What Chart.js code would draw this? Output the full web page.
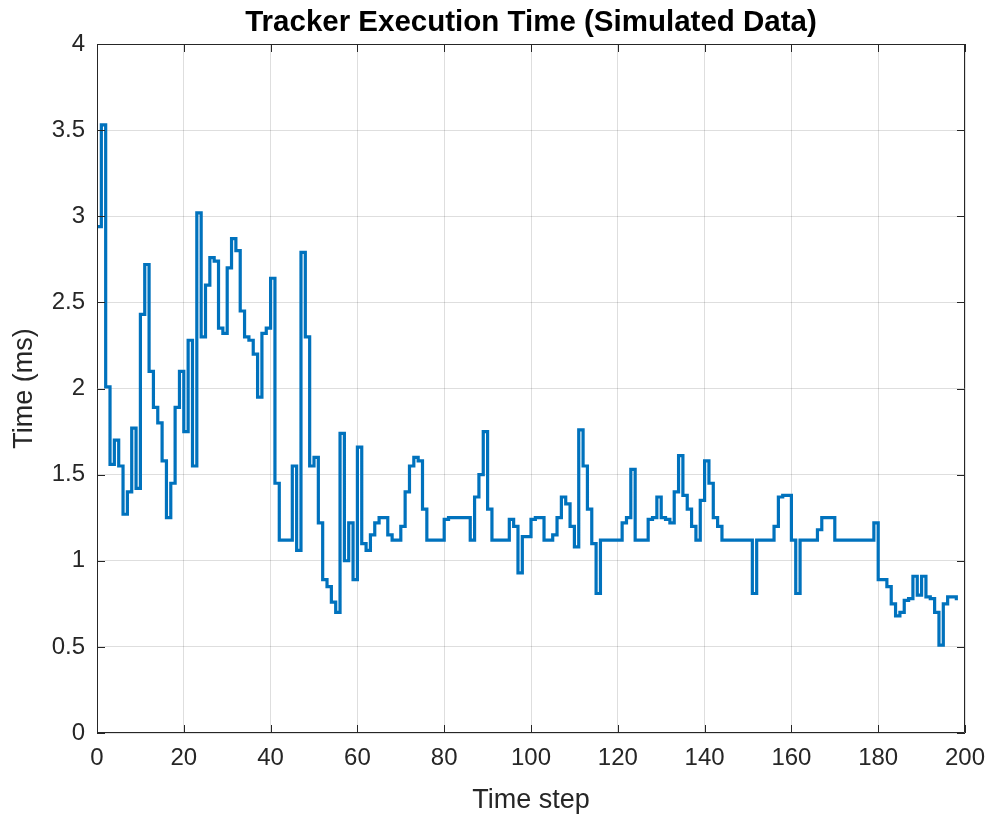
<!DOCTYPE html>
<html>
<head>
<meta charset="utf-8">
<script src="https://cdn.jsdelivr.net/npm/chart.js@4"></script>
<style>
html,body{margin:0;padding:0;background:#fff;}
#wrap{width:990px;height:817px;}
</style>
</head>
<body>
<div id="wrap"><canvas id="c" width="990" height="817"></canvas></div>
<script>
const timeSteps = [];
for (let i = 0; i <= 198; i++) timeSteps.push(i);

const execTimeMs = [
  2.94, 3.53, 2.01, 1.56, 1.70, 1.55, 1.27, 1.40, 1.77, 1.42,
  2.43, 2.72, 2.10, 1.89, 1.80, 1.58, 1.25, 1.45, 1.89, 2.10,
  1.75, 2.28, 1.55, 3.02, 2.30, 2.60, 2.76, 2.74, 2.35, 2.32,
  2.70, 2.87, 2.80, 2.45, 2.30, 2.28, 2.20, 1.95, 2.32, 2.35,
  2.64, 1.45, 1.12, 1.12, 1.12, 1.55, 1.06, 2.79, 2.30, 1.55,
  1.60, 1.22, 0.89, 0.85, 0.76, 0.70, 1.74, 1.00, 1.22, 0.89,
  1.66, 1.10, 1.06, 1.15, 1.22, 1.25, 1.25, 1.15, 1.12, 1.12,
  1.20, 1.40, 1.55, 1.60, 1.58, 1.30, 1.12, 1.12, 1.12, 1.12,
  1.24, 1.25, 1.25, 1.25, 1.25, 1.25, 1.12, 1.37, 1.50, 1.75,
  1.30, 1.12, 1.12, 1.12, 1.12, 1.24, 1.20, 0.93, 1.14, 1.14,
  1.24, 1.25, 1.25, 1.12, 1.12, 1.15, 1.25, 1.37, 1.33, 1.20,
  1.08, 1.76, 1.55, 1.30, 1.10, 0.81, 1.12, 1.12, 1.12, 1.12,
  1.12, 1.22, 1.25, 1.53, 1.12, 1.12, 1.12, 1.24, 1.25, 1.37,
  1.25, 1.24, 1.22, 1.40, 1.61, 1.38, 1.30, 1.20, 1.12, 1.35,
  1.58, 1.45, 1.25, 1.20, 1.12, 1.12, 1.12, 1.12, 1.12, 1.12,
  1.12, 0.81, 1.12, 1.12, 1.12, 1.12, 1.20, 1.37, 1.38, 1.38,
  1.12, 0.81, 1.12, 1.12, 1.12, 1.12, 1.18, 1.25, 1.25, 1.25,
  1.12, 1.12, 1.12, 1.12, 1.12, 1.12, 1.12, 1.12, 1.12, 1.22,
  0.89, 0.89, 0.85, 0.75, 0.68, 0.70, 0.77, 0.78, 0.91, 0.80,
  0.91, 0.79, 0.78, 0.70, 0.51, 0.75, 0.79, 0.79, 0.77
];

const titleText = 'Tracker Execution Time (Simulated Data)';
const xLabel = 'Time step';
const yLabel = 'Time (ms)';
const xRange = [0, 200];
const xStep = 20;
const yRange = [0, 4];
const yStep = 0.5;

const points = timeSteps.map((t, i) => ({x: t, y: execTimeMs[i]}));

const FONT = '"Liberation Sans", Arial, Helvetica, sans-serif';
const AX = '#262626';

const boxPlugin = {
  id: 'matlabBox',
  afterDatasetsDraw(chart) {
    const {ctx, chartArea: a, scales} = chart;
    ctx.save();
    ctx.strokeStyle = AX;
    ctx.lineWidth = 1;
    ctx.beginPath();
    ctx.rect(a.left + 0.5, a.top + 0.5, a.right - a.left - 1, a.bottom - a.top - 1);
    ctx.stroke();
    const tl = 8;
    ctx.beginPath();
    scales.x.ticks.forEach(tk => {
      const px = Math.round(scales.x.getPixelForValue(tk.value)) + 0.5;
      ctx.moveTo(px, a.bottom); ctx.lineTo(px, a.bottom - tl);
      ctx.moveTo(px, a.top); ctx.lineTo(px, a.top + tl);
    });
    scales.y.ticks.forEach(tk => {
      const py = Math.round(scales.y.getPixelForValue(tk.value)) + 0.5;
      ctx.moveTo(a.left, py); ctx.lineTo(a.left + tl, py);
      ctx.moveTo(a.right, py); ctx.lineTo(a.right - tl, py);
    });
    ctx.stroke();
    // title centred over the plot area
    ctx.fillStyle = '#000';
    ctx.font = 'bold 29.5px ' + FONT;
    ctx.textAlign = 'center';
    ctx.textBaseline = 'middle';
    ctx.fillText(titleText, (a.left + a.right) / 2, 23);
    ctx.restore();
  }
};

new Chart(document.getElementById('c'), {
  type: 'line',
  data: {
    datasets: [{
      data: points,
      borderColor: '#0072BD',
      borderWidth: 3.2,
      pointRadius: 0,
      stepped: true,
      fill: false
    }]
  },
  options: {
    responsive: false,
    animation: false,
    layout: {padding: {left: 0, right: 25, top: 44, bottom: 0}},
    plugins: {
      legend: {display: false},
      tooltip: {enabled: false},
      title: {display: false}
    },
    scales: {
      x: {
        type: 'linear',
        min: xRange[0], max: xRange[1],
        ticks: {stepSize: xStep, color: AX, font: {family: FONT, size: 24}, padding: 11, maxRotation: 0},
        grid: {color: 'rgba(0,0,0,0.13)', drawTicks: false},
        border: {display: false},
        title: {display: true, text: xLabel, color: AX, font: {family: FONT, size: 27}, padding: {top: 2, bottom: 0}},
        afterFit(s) { s.height = 84; s.paddingLeft = 0; s.paddingRight = 0; }
      },
      y: {
        min: yRange[0], max: yRange[1],
        ticks: {stepSize: yStep, color: AX, font: {family: FONT, size: 24}, padding: 12,
          callback: v => String(Math.round(v * 10) / 10)},
        grid: {color: 'rgba(0,0,0,0.13)', drawTicks: false},
        border: {display: false},
        title: {display: true, text: yLabel, color: AX, font: {family: FONT, size: 27}, padding: {top: 8, bottom: 0}},
        afterFit(s) { s.width = 97; s.paddingTop = 0; s.paddingBottom = 0; }
      }
    }
  },
  plugins: [boxPlugin]
});
</script>
</body>
</html>
